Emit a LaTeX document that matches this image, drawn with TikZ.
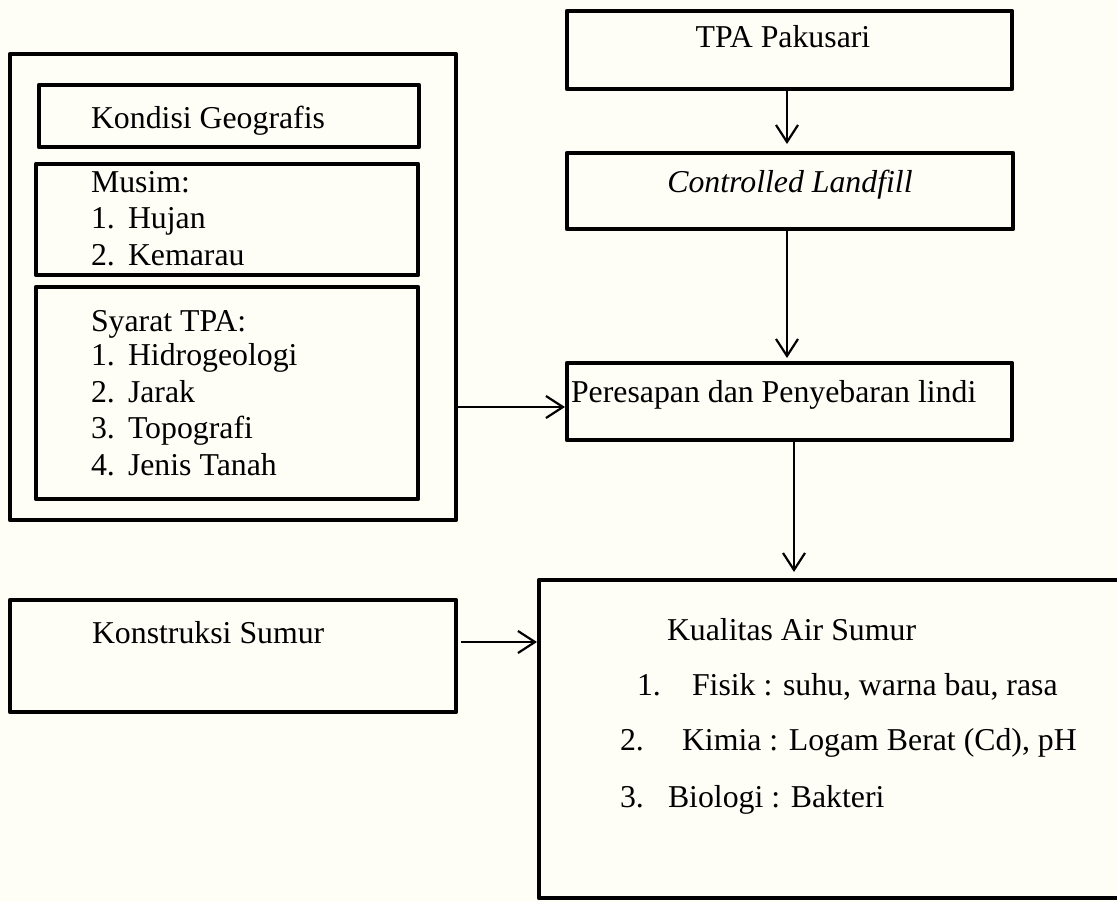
\documentclass[tikz,border=0pt]{standalone}
\usepackage{fontspec}
\setmainfont{Liberation Serif}
\usetikzlibrary{arrows.meta}
\definecolor{bgcream}{HTML}{FEFEF7}
\begin{document}
\begin{tikzpicture}[x=1pt,y=-1pt,
  box/.style={draw, line width=4.5pt, line join=round, rectangle, inner sep=0pt, outer sep=0pt},
  txt/.style={inner sep=0pt, outer sep=0pt, anchor=base west, font=\fontsize{31.8}{36}\selectfont},
  ctxt/.style={txt, anchor=base},
  conn/.style={line width=2.2pt, -{Straight Barb[length=17pt,width=22pt,line width=2.2pt]}}
]
\fill[bgcream] (0,0) rectangle (1117,902);
\useasboundingbox (0,0) rectangle (1117,902);

% boxes
\node[box, minimum width=446pt, minimum height=466pt] (outer) at (233,287) {};
\node[box, minimum width=380pt, minimum height=62pt] (kondisi) at (229,116) {};
\node[box, minimum width=382pt, minimum height=111pt] (musim) at (227,219.5) {};
\node[box, minimum width=382pt, minimum height=212pt] (syarat) at (227,393) {};
\node[box, minimum width=445pt, minimum height=78pt] (tpa) at (789.5,50) {};
\node[box, minimum width=446pt, minimum height=76pt] (ctrl) at (790,191) {};
\node[box, minimum width=445pt, minimum height=77pt] (pere) at (789.5,401.5) {};
\node[box, minimum width=446pt, minimum height=112pt] (kons) at (233,656) {};
\node[box, minimum width=596pt, minimum height=318pt] (kual) at (837,739) {};

% texts
\node[txt] (tkondisi) at (91,128) {Kondisi Geografis};
\node[txt] (tmusim) at (91,192) {Musim:};
\node[txt] (m1n) at (91,228) {1.};
\node[txt] (m1) at (128,228) {Hujan};
\node[txt] (m2n) at (91,265) {2.};
\node[txt] (m2) at (128,265) {Kemarau};
\node[txt] (tsyarat) at (91,331) {Syarat TPA:};
\node[txt] (s1n) at (91,365) {1.};
\node[txt] (s1) at (128,365) {Hidrogeologi};
\node[txt] (s2n) at (91,402) {2.};
\node[txt] (s2) at (128,402) {Jarak};
\node[txt] (s3n) at (91,438) {3.};
\node[txt] (s3) at (128,438) {Topografi};
\node[txt] (s4n) at (91,475) {4.};
\node[txt] (s4) at (128,475) {Jenis Tanah};

\node[ctxt] (ttpa) at (783,47) {TPA Pakusari};
\node[ctxt] (tctrl) at (790,192) {\textit{Controlled Landfill}};
\node[txt] (tpere) at (571,402) {Peresapan dan Penyebaran lindi};
\node[txt] (tkons) at (92,643) {Konstruksi Sumur};

\node[txt] (tkual) at (667,640) {Kualitas Air Sumur};
\node[txt] (k1n) at (637,695) {1.};
\node[txt] (k1) at (692,695) {Fisik : suhu, warna bau, rasa};
\node[txt] (k2n) at (620,750) {2.};
\node[txt] (k2) at (682,750) {Kimia : Logam Berat (Cd), pH};
\node[txt] (k3n) at (620,807) {3.};
\node[txt] (k3) at (668,807) {Biologi : Bakteri};

% connector guides
\coordinate (cx1) at (787,0);
\coordinate (cx3) at (794,0);
\coordinate (cy4) at (0,407);
\coordinate (cy5) at (0,642);

% connectors
\draw[conn, shorten >=9pt] (tpa.south -| cx1) -- (ctrl.north -| cx1);
\draw[conn, shorten >=5pt] (ctrl.south -| cx1) -- (pere.north -| cx1);
\draw[conn, shorten >=8pt] (pere.south -| cx3) -- (kual.north -| cx3);
\draw[conn, shorten >=2pt] (outer.east |- cy4) -- (pere.west |- cy4);
\draw[conn, shorten <=5pt, shorten >=2pt] (kons.east |- cy5) -- (kual.west |- cy5);
\end{tikzpicture}
\end{document}
